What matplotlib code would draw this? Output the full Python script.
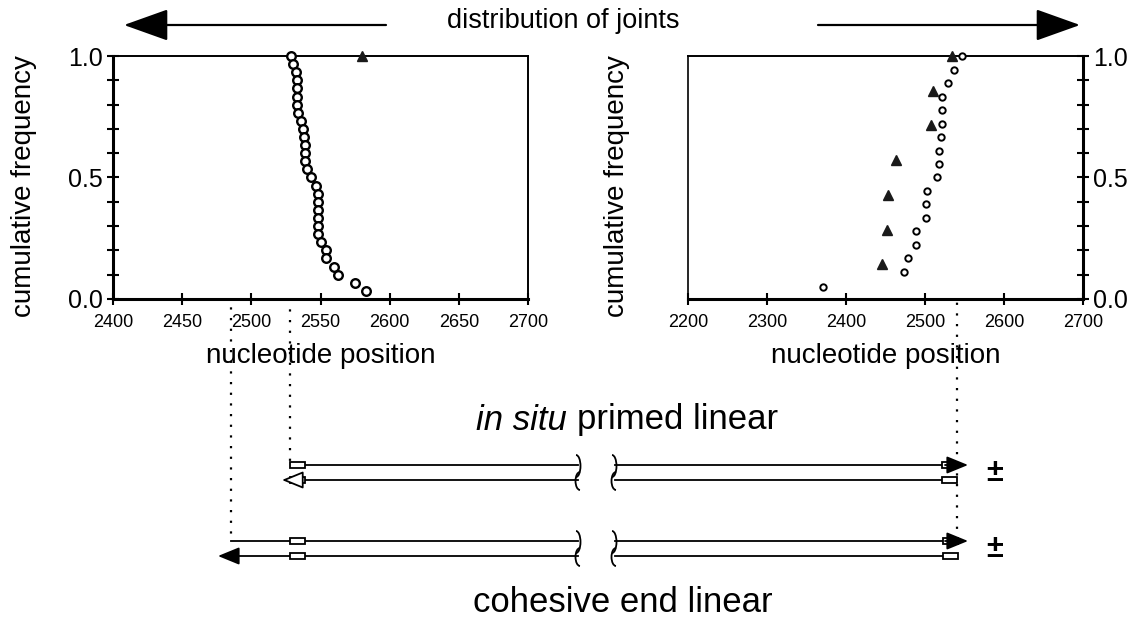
import matplotlib

matplotlib.use("Agg")
import matplotlib.pyplot as plt
from matplotlib.patches import Arc, Rectangle
from matplotlib.transforms import blended_transform_factory

plt.rcParams["font.family"] = ["Liberation Sans", "DejaVu Sans"]

# ── data ─────────────────────────────────────────────────────────────────
left_circle_x = [2529, 2530, 2532, 2533, 2533, 2533, 2533, 2534, 2536, 2537,
                 2538, 2539, 2539, 2539, 2540, 2543, 2547, 2548, 2548, 2548,
                 2548, 2548, 2548, 2550, 2554, 2554, 2560, 2563, 2575, 2583]
left_circle_y = [1.0, 0.967, 0.933, 0.9, 0.867, 0.833, 0.8, 0.767, 0.733, 0.7,
                 0.667, 0.633, 0.6, 0.567, 0.533, 0.5, 0.467, 0.433, 0.4, 0.367,
                 0.333, 0.3, 0.267, 0.233, 0.2, 0.167, 0.133, 0.1, 0.067, 0.033]
left_tri_x = [2580]
left_tri_y = [1.0]

right_circle_x = [2547, 2537, 2529, 2522, 2522, 2521, 2520, 2518, 2518, 2515,
                  2502, 2501, 2501, 2489, 2489, 2478, 2474, 2371]
right_circle_y = [1.0, 0.944, 0.889, 0.833, 0.778, 0.722, 0.667, 0.611, 0.556,
                  0.5, 0.444, 0.389, 0.333, 0.278, 0.222, 0.167, 0.111, 0.05]
right_tri_x = [2534, 2510, 2507, 2463, 2453, 2452, 2445]
right_tri_y = [1.0, 0.857, 0.714, 0.571, 0.429, 0.286, 0.143]

left_xticks = [2400, 2450, 2500, 2550, 2600, 2650, 2700]
right_xticks = [2200, 2300, 2400, 2500, 2600, 2700]
yticks = [0.0, 0.5, 1.0]

# nucleotide positions carried down to the schematic by dotted guides
left_outer_guide = 2485
left_inner_guide = 2528
right_guide = 2541

W, H = 1137, 620
fig = plt.figure(figsize=(W / 100, H / 100), dpi=100)


def px_axes(x0, y0, x1, y1):
    return fig.add_axes([x0 / W, 1 - y1 / H, (x1 - x0) / W, (y1 - y0) / H])


ax1 = px_axes(113, 56, 528, 299)
ax2 = px_axes(688, 56, 1083, 299)


def style(ax, xlim, xticks, side):
    ax.set_xlim(*xlim)
    ax.set_ylim(0, 1)
    ax.set_xticks(xticks)
    ax.set_xticklabels([str(t) for t in xticks], fontsize=13)
    ax.set_yticks(yticks)
    ax.set_yticklabels([f"{t:.1f}" for t in yticks], fontsize=18)
    ax.set_yticks([i / 10 for i in range(11)], minor=True)
    ax.tick_params(axis="both", which="major", direction="inout", length=9,
                   width=1.5, pad=6)
    ax.tick_params(axis="y", which="minor", direction="inout", length=9,
                   width=1.5)
    ax.tick_params(axis="y", which="major", pad=3)
    for s in ax.spines.values():
        s.set_linewidth(1.4)
    ax.spines["bottom"].set_linewidth(2.2)
    if side == "right":
        ax.yaxis.tick_right()
        ax.yaxis.set_label_position("left")
        ax.spines["right"].set_linewidth(2.2)
        ax.spines["left"].set_linewidth(1.2)
    else:
        ax.spines["left"].set_linewidth(2.2)
    ax.set_xlabel("nucleotide position", fontsize=20, labelpad=9)
    ax.set_ylabel("cumulative frequency", fontsize=20)
    ax.yaxis.set_label_coords(-0.183 if side == "left" else -0.147, 0.465)


style(ax1, (2400, 2700), left_xticks, "left")
style(ax2, (2200, 2700), right_xticks, "right")

ax1.plot(left_circle_x, left_circle_y, "o", ms=6.2, mfc="white", mec="black",
         mew=1.7, clip_on=False, zorder=5)
ax1.plot(left_tri_x, left_tri_y, "^", ms=7, color="#1a1a1a", clip_on=False,
         zorder=5)
ax2.plot(right_circle_x, right_circle_y, "o", ms=4.6, mfc="white",
         mec="black", mew=1.4, clip_on=False, zorder=5)
ax2.plot(right_tri_x, right_tri_y, "^", ms=7, color="#1a1a1a", clip_on=False,
         zorder=5)

# ── overlay in pixel coordinates for the schematic ───────────────────────
ov = fig.add_axes([0, 0, 1, 1], zorder=-1)
ov.set_xlim(0, W)
ov.set_ylim(H, 0)
ov.axis("off")

dots = dict(color="black", lw=1.6, ls=(0, (1, 3.8)), clip_on=False)
t1 = blended_transform_factory(ax1.transData, ov.transData)
t2 = blended_transform_factory(ax2.transData, ov.transData)
ov.plot([left_outer_guide] * 2, [62, 542], transform=t1, **dots)
ov.plot([left_inner_guide] * 2, [64, 463], transform=t1, **dots)
ov.plot([right_guide] * 2, [68, 533], transform=t2, **dots)

# header arrows + title
head = dict(arrowstyle="-|>,head_length=1.4,head_width=0.5", lw=1.6,
            color="black", mutation_scale=20, shrinkA=0, shrinkB=0)
ov.annotate("", xy=(124, 25), xytext=(386, 25), arrowprops=head)
ov.annotate("", xy=(1080, 25), xytext=(818, 25), arrowprops=head)
ov.text(563, 21, "distribution of joints", ha="center", va="center",
        fontsize=19.5)

small_head = dict(arrowstyle="-|>,head_length=1.1,head_width=0.45", lw=1.3,
                  color="black", mutation_scale=12, shrinkA=0, shrinkB=0)
open_head = dict(arrowstyle="-|>,head_length=1.1,head_width=0.45", lw=1.3,
                 ec="black", fc="white", mutation_scale=12,
                 shrinkA=0, shrinkB=0)


def strand(y, x_start, x_stop, box_left, box_right, arrow=None):
    kw = dict(color="black", lw=1.3)
    ov.plot([x_start, 578], [y, y], **kw)
    ov.plot([615, x_stop], [y, y], **kw)
    for bx in (box_left, box_right):
        if bx is not None:
            ov.add_patch(Rectangle((bx, y - 2.8), 15, 5.6, fc="white",
                                   ec="black", lw=1.3, zorder=3))
    if arrow == "right":
        ov.annotate("", xy=(968, y), xytext=(945, y), arrowprops=small_head)
    elif arrow == "left":
        ov.annotate("", xy=(x_start - 12, y), xytext=(x_start + 8, y),
                    arrowprops=small_head)
    elif arrow == "left_open":
        ov.annotate("", xy=(x_start - 8, y), xytext=(x_start + 12, y),
                    arrowprops=open_head)


strand(465, 305, 943, 290, 942, arrow="right")
strand(480, 290, 943, 290, 942, arrow="left_open")
strand(541, 231, 943, 290, 943, arrow="right")
strand(556, 230, 943, 290, 943, arrow="left")

# break marks on each duplex: ")" on the upper strand, "(" on the lower
for y_top, y_bot in ((465, 480), (541, 556)):
    for xb in (576, 612):
        ov.add_patch(Arc((xb, y_top + 1), 9, 22, theta1=-90, theta2=90,
                         color="black", lw=1.3))
        ov.add_patch(Arc((xb + 4, y_bot + 1), 9, 18, theta1=90, theta2=270,
                         color="black", lw=1.3))

for y0 in (473, 549):
    ov.text(995, y0, "±", ha="center", va="center", fontsize=22,
            fontweight="bold")

ov.text(567, 420, "in situ", style="italic", ha="right", va="center",
        fontsize=25)
ov.text(577, 420, "primed linear", ha="left", va="center", fontsize=25)
ov.text(623, 603, "cohesive end linear", ha="center", va="center",
        fontsize=25)

fig.savefig("out.png", dpi=100)
